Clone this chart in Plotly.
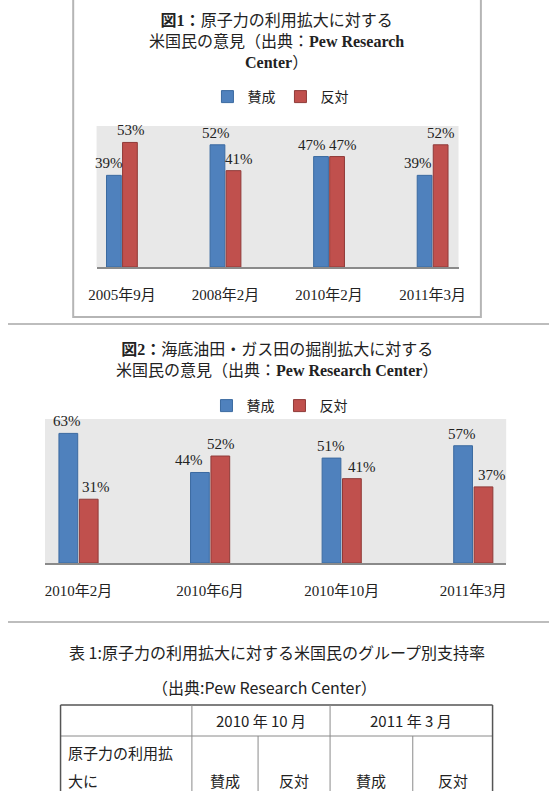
import plotly.graph_objects as go

W, H = 556, 791

# ---------------- data ----------------
c1_categories = ["2005年9月", "2008年2月", "2010年2月", "2011年3月"]
c1_favor = [39, 52, 47, 39]
c1_oppose = [53, 41, 47, 52]

c2_categories = ["2010年2月", "2010年6月", "2010年10月", "2011年3月"]
c2_favor = [63, 44, 51, 57]
c2_oppose = [31, 52, 41, 37]

series_names = ["賛成", "反対"]

c1_title = "<b>図1：</b>原子力の利用拡大に対する<br>米国民の意見（出典：<b>Pew Research</b><br><b>Center</b>）"
c2_title = "<b>図2：</b>海底油田・ガス田の掘削拡大に対する<br>米国民の意見（出典：<b>Pew Research Center</b>）"

t_title = "表 1:原子力の利用拡大に対する米国民のグループ別支持率"
t_subtitle = "（出典:Pew Research Center）"
t_periods = ["2010 年 10 月", "2011 年 3 月"]
t_rowlabel = ["原子力の利用拡", "大に"]
t_cols = ["賛成", "反対", "賛成", "反対"]

# ---------------- style ----------------
SERIF = "Liberation Serif, DejaVu Serif, Noto Sans CJK JP, serif"
SANS = "Noto Sans CJK JP, Noto Sans, sans-serif"
BLUE, BLUE_L = "#4f81bd", "#3b6aa0"
RED, RED_L = "#c0504d", "#8f3a38"

# horizontal nudges of the data labels (pixels), as placed in the original
c1_favor_shift = [-4, -1, -8, -6]
c1_oppose_shift = [0, 5, 5, 0]
c2_favor_shift = [0, -10, 0, 0]
c2_oppose_shift = [6, 0, 9, 8]


def px(x):
    return x / W


def py(y):
    return 1 - y / H


fig = go.Figure()
annotations = []

for cats, fav, opp, xa, ya, lg, fsh, osh in [
    (c1_categories, c1_favor, c1_oppose, "x", "y", "legend", c1_favor_shift, c1_oppose_shift),
    (c2_categories, c2_favor, c2_oppose, "x2", "y2", "legend2", c2_favor_shift, c2_oppose_shift),
]:
    for k, (name, vals, col, lcol, shifts) in enumerate([
        (series_names[0], fav, BLUE, BLUE_L, fsh),
        (series_names[1], opp, RED, RED_L, osh),
    ]):
        fig.add_trace(go.Bar(
            x=cats, y=vals, name=name, xaxis=xa, yaxis=ya, legend=lg,
            marker=dict(color=col, line=dict(color=lcol, width=1)),
            offsetgroup=str(k),
        ))
        # data labels tied to the bars' data coordinates
        for i, (c, v, s) in enumerate(zip(cats, vals, shifts)):
            annotations.append(dict(
                x=i + (-0.085 if k == 0 else 0.085), y=v, xref=xa, yref=ya,
                text=f"{v}%", showarrow=False, xanchor="center", yanchor="bottom",
                xshift=s, yshift=2,
                font=dict(family=SERIF, size=15, color="#222")))

axis_common = dict(type="category", showgrid=False, zeroline=False,
                   showline=True, linecolor="#8a8a8a", linewidth=1.5,
                   ticks="outside", ticklen=13, tickcolor="rgba(0,0,0,0)",
                   tickfont=dict(family=SERIF, size=15, color="#222"),
                   fixedrange=True)
yaxis_common = dict(showgrid=False, zeroline=False, showticklabels=False,
                    showline=False, fixedrange=True)

fig.update_layout(
    width=W, height=H, autosize=False,
    margin=dict(l=0, r=0, t=0, b=0),
    paper_bgcolor="white", plot_bgcolor="#e8e8e8",
    barmode="group", bargap=0.69, bargroupgap=0.08,
    xaxis=dict(axis_common, domain=[px(91), px(463)], range=[-0.245, 3.25], anchor="y"),
    yaxis=dict(yaxis_common, domain=[py(267), py(126)], range=[0, 60], anchor="x"),
    xaxis2=dict(axis_common, domain=[px(38), px(512)], range=[-0.255, 3.25], anchor="y2"),
    yaxis2=dict(yaxis_common, domain=[py(563), py(419)], range=[0, 70], anchor="x2"),
    legend=dict(orientation="h", x=px(280), y=py(97), xanchor="center", yanchor="middle",
                font=dict(family=SERIF, size=14, color="#222"), itemwidth=30,
                bgcolor="rgba(0,0,0,0)", traceorder="normal"),
    legend2=dict(orientation="h", x=px(279), y=py(406), xanchor="center", yanchor="middle",
                 font=dict(family=SERIF, size=14, color="#222"), itemwidth=30,
                 bgcolor="rgba(0,0,0,0)", traceorder="normal"),
    showlegend=True,
)

shapes = []
# chart 1 frame
shapes.append(dict(type="rect", xref="paper", yref="paper",
                   x0=px(67), x1=px(486), y0=py(317), y1=py(-10),
                   line=dict(color="#b5b5b5", width=2)))
# separators
for yy in (324, 622):
    shapes.append(dict(type="line", xref="paper", yref="paper",
                       x0=0, x1=1, y0=py(yy), y1=py(yy),
                       line=dict(color="#bdbdbd", width=2)))

# table grid
T_L, T_R, T_TOP, T_MID, T_BOT = 54, 498, 705, 736, 800
C1, C2, C3, C4 = 189, 257, 331, 416
outer = dict(color="#555", width=1.5)
inner = dict(color="#8a8a8a", width=1)


def hline(y, x0, x1, ln):
    shapes.append(dict(type="line", xref="paper", yref="paper",
                       x0=px(x0), x1=px(x1), y0=py(y), y1=py(y), line=ln))


def vline(x, y0, y1, ln):
    shapes.append(dict(type="line", xref="paper", yref="paper",
                       x0=px(x), x1=px(x), y0=py(y0), y1=py(y1), line=ln))


hline(T_TOP, T_L, T_R, outer)
hline(T_MID, T_L, T_R, inner)
vline(T_L, T_TOP, T_BOT, outer)
vline(T_R, T_TOP, T_BOT, outer)
vline(C1, T_TOP, T_BOT, inner)
vline(C3, T_TOP, T_BOT, inner)
vline(C2, T_MID, T_BOT, inner)
vline(C4, T_MID, T_BOT, inner)


def text(x, y, s, font, size, xanchor="center", color="#222"):
    annotations.append(dict(x=px(x), y=py(y), xref="paper", yref="paper",
                            text=s, showarrow=False, xanchor=xanchor, yanchor="middle",
                            font=dict(family=font, size=size, color=color), align="center"))


text(276, 41, c1_title, SERIF, 16)
text(276, 360, c2_title, SERIF, 16)
text(276, 652, t_title, SANS, 16)
text(264, 687, t_subtitle, SANS, 16)
text((C1 + C3) / 2, 720, t_periods[0], SANS, 15)
text((C3 + T_R) / 2, 720, t_periods[1], SANS, 15)
text(60, 752, t_rowlabel[0], SANS, 15, xanchor="left")
text(60, 780, t_rowlabel[1], SANS, 15, xanchor="left")
col_centers = [(C1 + C2) / 2, (C2 + C3) / 2, (C3 + C4) / 2, (C4 + T_R) / 2]
for cx, s in zip(col_centers, t_cols):
    text(cx, 780, s, SANS, 15)

fig.update_layout(shapes=shapes, annotations=annotations)
fig.write_html("out.html")
